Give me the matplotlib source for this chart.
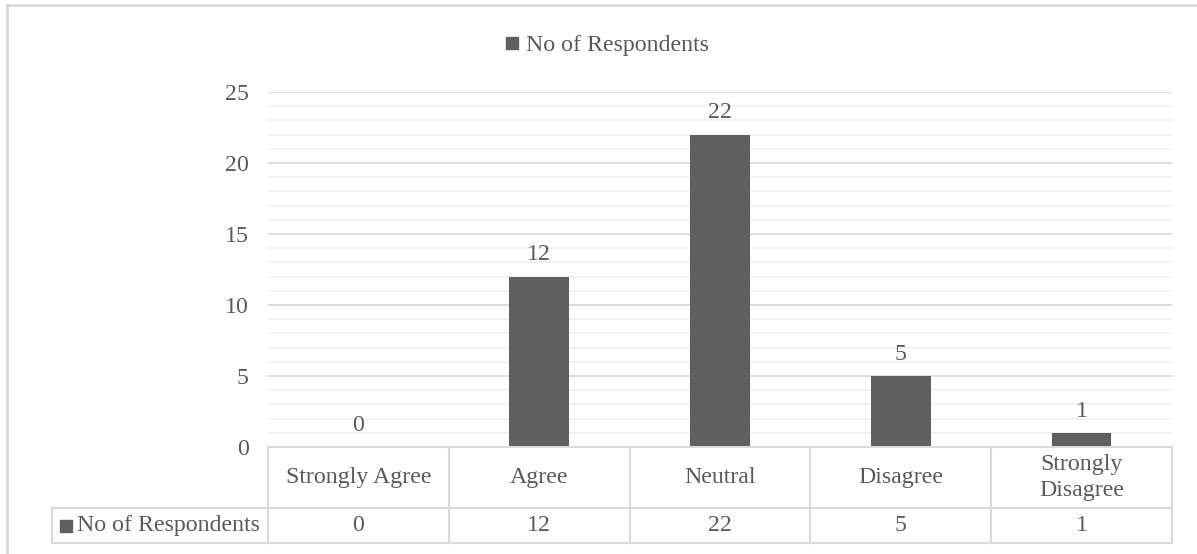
import matplotlib
matplotlib.use('Agg')
import matplotlib.pyplot as plt
from matplotlib.lines import Line2D
import matplotlib.transforms as mtransforms

# Survey responses
categories = ['Strongly Agree', 'Agree', 'Neutral', 'Disagree', 'Strongly\nDisagree']
respondents = [0, 12, 22, 5, 1]
series_name = 'No of Respondents'

W, H = 1197, 554
bar_color = '#5f5f5f'
text_color = '#595959'
line_color = '#d9d9d9'
fs = 17.2

plt.rcParams['font.family'] = ['Liberation Serif', 'DejaVu Serif']

fig = plt.figure(figsize=(W / 100, H / 100), dpi=100)


def fx(x):
    return x / W


def fy(y):
    return 1 - y / H


# plot area in pixels
left, right, top, bottom = 268, 1172, 92, 447
ax = fig.add_axes([fx(left), fy(bottom), fx(right - left), (bottom - top) / H])

x = range(len(categories))
ax.bar(x, respondents, width=0.33, color=bar_color, zorder=3)
for xi, v in zip(x, respondents):
    ax.annotate(str(v), (xi, v), xytext=(0, 8), textcoords='offset points',
                ha='center', va='bottom', fontsize=fs, color=text_color)

ax.set_xlim(-0.5, len(categories) - 0.5)
ax.set_ylim(0, 25)
ax.set_yticks(range(0, 26, 5))
ax.set_yticks(range(0, 26, 1), minor=True)
ax.grid(axis='y', which='major', color=line_color, linewidth=1.3, zorder=0)
ax.grid(axis='y', which='minor', color='#f0f0f0', linewidth=1.3, zorder=0)
ax.set_xticks([])
ax.tick_params(axis='y', which='both', length=0, pad=14, labelsize=fs, labelcolor=text_color)
for s in ['top', 'right', 'left', 'bottom']:
    ax.spines[s].set_visible(False)

# data table under the axis
row1, row2, row3 = 447, 508, 543
head_left = 52
lw_tab = 1.5
fig.add_artist(Line2D([fx(left), fx(right)], [fy(row1), fy(row1)], color=line_color, lw=lw_tab))
for y in [row2, row3]:
    fig.add_artist(Line2D([fx(head_left), fx(right)], [fy(y), fy(y)], color=line_color, lw=lw_tab))
fig.add_artist(Line2D([fx(head_left), fx(head_left)], [fy(row2), fy(row3)], color=line_color, lw=lw_tab))

trans = mtransforms.blended_transform_factory(ax.transData, fig.transFigure)
for b in [i - 0.5 for i in range(len(categories) + 1)]:
    ax.plot([b, b], [fy(row1), fy(row3)], transform=trans, color=line_color,
            lw=lw_tab, clip_on=False)
for xi, cat, v in zip(x, categories, respondents):
    ax.text(xi, fy((row1 + row2) / 2), cat, transform=trans, ha='center', va='center',
            fontsize=fs, color=text_color, linespacing=1.3)
    ax.text(xi, fy((row2 + row3) / 2), str(v), transform=trans, ha='center', va='center',
            fontsize=fs, color=text_color)

# row header with legend key
fig.add_artist(Line2D([fx(66)], [fy(526)], marker='s', markersize=8.5, color=bar_color,
                      linestyle='none'))
fig.text(fx(77), fy(526), series_name, ha='left', va='center', fontsize=fs, color=text_color)

# legend on top
handle = Line2D([], [], marker='s', markersize=8, color=bar_color, linestyle='none')
fig.legend([handle], [series_name], loc='center', bbox_to_anchor=(fx(607), fy(45)),
           frameon=False, fontsize=fs, labelcolor=text_color,
           handlelength=0.6, handletextpad=0.3)

# chart border
fig.add_artist(Line2D([fx(7), fx(W)], [fy(5), fy(5)], color=line_color, lw=2))
fig.add_artist(Line2D([fx(7), fx(7)], [fy(5), fy(H)], color=line_color, lw=2))

fig.savefig('out.png', dpi=100)
